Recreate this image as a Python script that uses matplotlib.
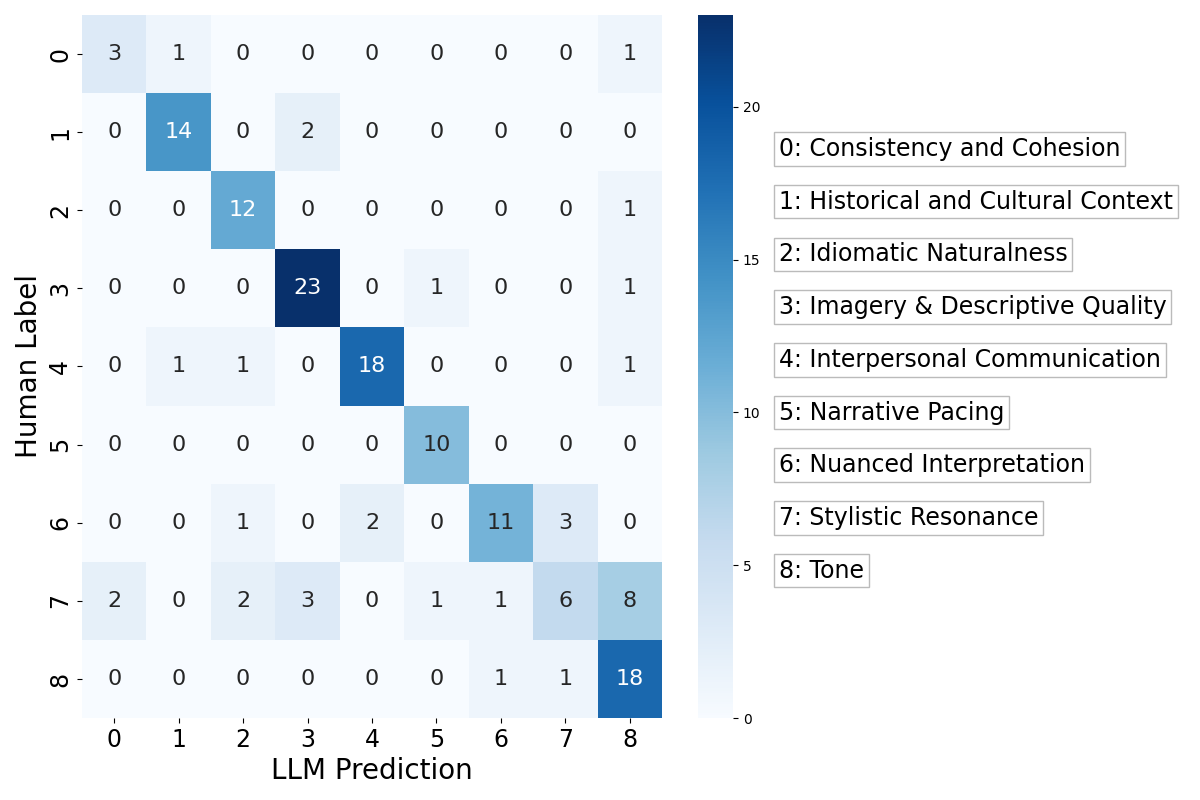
import numpy as np
import matplotlib.pyplot as plt
import seaborn as sns

labels = [str(i) for i in range(9)]
categories = [
    "0: Consistency and Cohesion",
    "1: Historical and Cultural Context",
    "2: Idiomatic Naturalness",
    "3: Imagery & Descriptive Quality",
    "4: Interpersonal Communication",
    "5: Narrative Pacing",
    "6: Nuanced Interpretation",
    "7: Stylistic Resonance",
    "8: Tone",
]
cm = np.array([
    [3, 1, 0, 0, 0, 0, 0, 0, 1],
    [0, 14, 0, 2, 0, 0, 0, 0, 0],
    [0, 0, 12, 0, 0, 0, 0, 0, 1],
    [0, 0, 0, 23, 0, 1, 0, 0, 1],
    [0, 1, 1, 0, 18, 0, 0, 0, 1],
    [0, 0, 0, 0, 0, 10, 0, 0, 0],
    [0, 0, 1, 0, 2, 0, 11, 3, 0],
    [2, 0, 2, 3, 0, 1, 1, 6, 8],
    [0, 0, 0, 0, 0, 0, 1, 1, 18],
])

fig = plt.figure(figsize=(12, 8), dpi=100)
ax = fig.add_axes([82/1200, 1-718/800, 580/1200, 703/800])
cax = fig.add_axes([698/1200, 1-718/800, 35/1200, 703/800])

sns.heatmap(cm, annot=True, fmt="d", cmap="Blues", ax=ax, cbar_ax=cax,
            xticklabels=labels, yticklabels=labels, annot_kws={"fontsize": 16})
ax.set_xlabel("LLM Prediction", fontsize=20)
ax.set_ylabel("Human Label", fontsize=20)
ax.tick_params(axis='both', labelsize=17)
cax.tick_params(labelsize=10)

# category key on the right
y0 = 1 - 149/800
step = 52.7/800
for i, txt in enumerate(categories):
    fig.text(779/1200, y0 - i*step, txt, fontsize=17, va='center', ha='left',
             bbox=dict(boxstyle='square,pad=0.2', facecolor='white', edgecolor='#bbbbbb'))

fig.savefig("out.png", dpi=100)
